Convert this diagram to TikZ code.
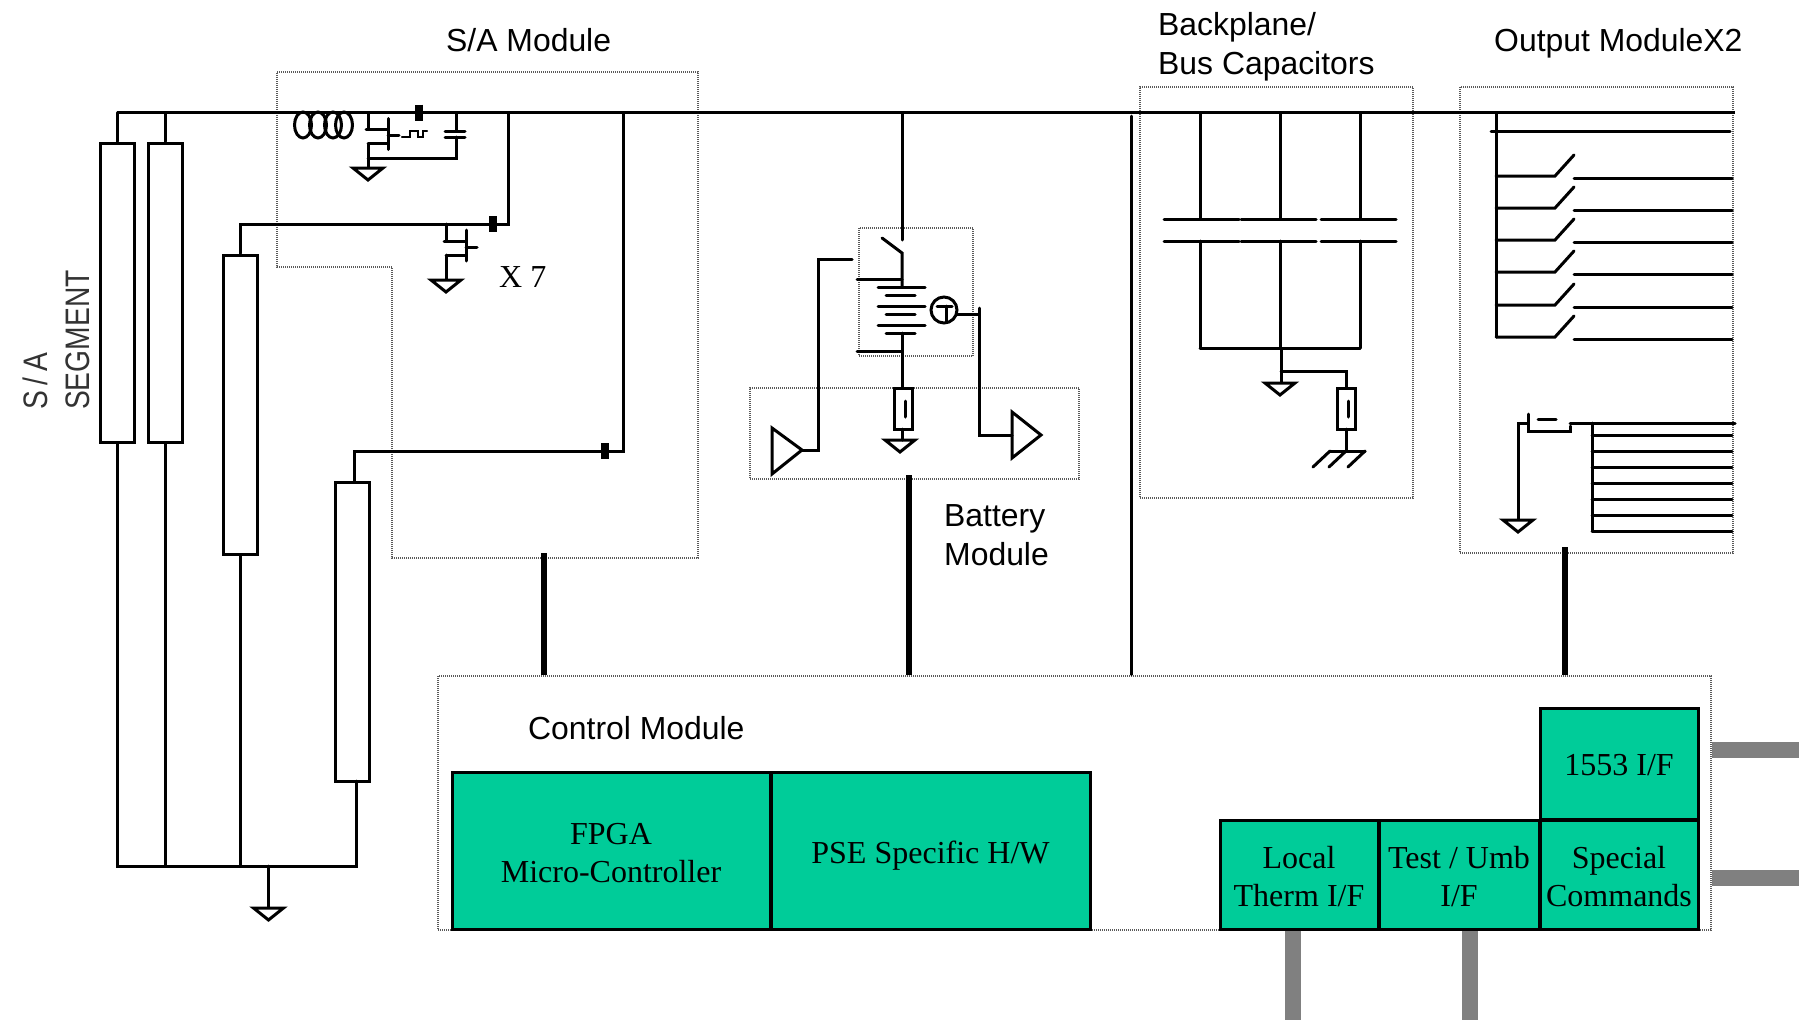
\documentclass[tikz,border=0pt]{standalone}
\usepackage{fontspec}
\setmainfont{Liberation Sans}
\newfontfamily\serifface{Liberation Serif}
\usepackage{xcolor}
\usetikzlibrary{positioning}
\definecolor{cardcolor}{RGB}{0,204,153}
\definecolor{stubcolor}{RGB}{128,128,128}
\definecolor{modcolor}{RGB}{90,90,90}
\newcommand{\cardlift}[1]{\rule{0pt}{#1}}

\begin{document}
\begin{tikzpicture}[
    x=1pt, y=-1pt,
    wire/.style={draw=black, line width=3pt, line cap=round},
    busline/.style={draw=black, line width=3pt},
    ctrlline/.style={draw=black, line width=6pt},
    graystub/.style={draw=stubcolor, line width=16pt},
    modbox/.style={draw=modcolor, line width=2.6pt, dash pattern=on 1pt off 1pt},
    panel/.style={draw=black, line width=3pt, minimum width=34pt, minimum height=299pt, inner sep=0pt},
    card/.style={draw=black, line width=3pt, fill=cardcolor, align=center, inner sep=0pt,
        font=\serifface\fontsize{32}{38}\selectfont},
    label/.style={font=\fontsize{31.9}{39}\selectfont, align=left, anchor=west, inner sep=0pt},
    gnd/.pic={\draw[wire, line join=miter] (-15,0) -- (15,0) -- (0,12) -- cycle;},
    fuse/.pic={\draw[line width=7.5pt, draw=black] (0,-8) -- (0,8);},
    resistor/.pic={\draw[wire] (-9,0) rectangle (9,41); \draw[wire] (2,13) -- (2,29);},
    mosfet/.pic={
        \draw[wire] (0,0) -- (0,17) (-2,17) -- (20,17);
        \draw[wire] (20,6) -- (20,37) (20,23) -- (31,23);
        \draw[wire] (20,31) -- (0,31);
    }
]
    \useasboundingbox (0,0) rectangle (1799,1020);

    % Module outlines
    \draw[modbox] (277,72) -- (698,72) -- (698,558) -- (392,558) -- (392,267) -- (277,267) -- cycle;
    \node[modbox, minimum width=114pt, minimum height=128pt] (cellbox) at (916,292) {};
    \node[modbox, minimum width=329pt, minimum height=91pt] (battbox) at (914.5,433.5) {};
    \node[modbox, minimum width=273pt, minimum height=411pt] (backbox) at (1276.5,292.5) {};
    \node[modbox, minimum width=273pt, minimum height=466pt] (outbox) at (1596.5,320) {};
    \node[modbox, minimum width=1273pt, minimum height=254pt] (ctrl) at (1074.5,803) {};

    % Module labels
    \node[label] (salabel) at (446,40) {S/A Module};
    \node[label] (backlabel) at (1158,47) {Backplane/\\Bus Capacitors};
    \node[label] (outlabel) at (1494,43) {Output ModuleX2};
    \node[label] (battlabel) at (944,535) {Battery\\Module};
    \node[label] (ctrllabel) at (528,728) {Control Module};
    \node[label, font=\serifface\fontsize{32}{38}\selectfont] (times) at (499,277) {X 7};
    \node[rotate=90, anchor=west, xscale=0.83, text=black!80, inner sep=0pt, font=\fontsize{34}{38}\selectfont] (salbl) at (35,410) {S\kern7pt/\kern7pt A};
    \node[rotate=90, anchor=west, xscale=0.83, text=black!80, inner sep=0pt, font=\fontsize{34}{38}\selectfont] (seglbl) at (78,410) {SEGMENT};

    % Solar array strings
    \node[panel] (panela) at (117,292.5) {};
    \node[panel] (panelb) at (165,292.5) {};
    \node[panel] (panelc) at (240,404.5) {};
    \node[panel] (paneld) at (352.5,631.5) {};
    \coordinate (retleft) at (117,866);
    \coordinate (retright) at (356,866);
    \coordinate (retgnd) at (268.5,866);
    \draw[wire] (panela.south) -- (retleft) -- (retright) -- (356,781);
    \draw[wire] (panelb.south) -- (165,866);
    \draw[wire] (panelc.south) -- (240,866);
    \draw[wire] (retgnd) -- (268.5,907);
    \pic at (268.5,908) {gnd};

    % Main bus
    \coordinate (busl) at (117,112.5);
    \coordinate (busr) at (1735,112.5);
    \draw[busline] (busl) -- (busr);
    \draw[wire] (busl) -- (panela.north);
    \draw[wire] (165,112.5) -- (panelb.north);
    \foreach \x in {303,318,333,344} {
        \draw[wire] (\x,125) ellipse (8.5 and 13);
    }

    % S/A shunt
    \pic at (368,112.5) {mosfet};
    \draw[wire] (368,143.5) -- (368,167);
    \pic at (368,168) {gnd};
    \draw[wire] (368,158) -- (456,158) -- (456,137);
    \draw[wire] (456,112.5) -- (456,131);
    \draw[wire] (445,131) -- (465,131) (445,137) -- (465,137);
    \draw[wire, line width=2.4pt] (402,137) -- (410,137) -- (410,131) -- (418,131) -- (418,137) -- (423,137) -- (423,131) -- (427,131);
    \pic at (419,112.5) {fuse};

    % S/A switch, X 7
    \draw[wire] (panelc.north) |- (508,224) -- (508,112.5);
    \pic at (493,224) {fuse};
    \pic at (446,224) {mosfet};
    \draw[wire] (446,255) -- (446,279);
    \pic at (446,280) {gnd};
    \draw[wire] (354.5,482) -- (354.5,451) -- (623,451) -- (623,112.5);
    \pic at (605,451) {fuse};

    % Battery
    \draw[wire] (902,112.5) -- (902,240);
    \draw[wire] (882,238) -- (902,253) -- (902,287);
    \draw[wire] (857,279) -- (902,279);
    \foreach \y in {287,306,325} {
        \draw[wire] (878,\y) -- (925,\y);
        \draw[wire] (886,\y+8) -- (915,\y+8);
    }
    \draw[wire] (902,333) -- (902,388);
    \draw[wire] (857,351) -- (902,351);
    \pic at (903,388) {resistor};
    \draw[wire] (902,429) -- (902,440);
    \pic at (900,440) {gnd};
    \node[draw=black, line width=3pt, circle, minimum size=26pt, inner sep=0pt] (therm) at (944,310) {};
    \draw[wire] (937,306) -- (952,306) (946,306) -- (946,322);
    \draw[wire] (957,314) -- (979,314);
    \draw[wire] (979,308) -- (979,435) -- (1012,435);
    \draw[wire, line join=miter] (1012,412) -- (1012,458) -- (1041,435) -- cycle;
    \draw[wire] (852,259) -- (818,259) -- (818,450) -- (802,450);
    \draw[wire, line join=miter] (772,428) -- (772,474) -- (802,450) -- cycle;

    % Backplane capacitors
    \coordinate (backtop) at (1131.5,116);
    \draw[wire, line width=2.7pt] (backtop) -- (backtop |- ctrl.north);
    \foreach \x/\l/\r in {1200/1164/1239, 1280/1241/1316, 1360/1321/1396} {
        \draw[wire] (\x,112.5) -- (\x,219);
        \draw[wire] (\l,219) -- (\r,219) (\l,241) -- (\r,241);
        \draw[wire] (\x,241) -- (\x,348);
    }
    \draw[wire] (1200,348) -- (1360,348);
    \draw[wire] (1281,348) -- (1281,382);
    \pic at (1280,383) {gnd};
    \draw[wire] (1281,371) -- (1346.5,371) -- (1346.5,388);
    \pic at (1346.5,388) {resistor};
    \draw[wire] (1346.5,429) -- (1346.5,451);
    \draw[wire] (1330,451) -- (1365,451);
    \foreach \x in {1330,1346,1365} {
        \draw[wire] (\x,451) -- (\x-17,467);
    }

    % Output switches
    \draw[wire] (1496,112.5) -- (1496,337);
    \draw[wire] (1491,131) -- (1730,131);
    \foreach \y in {176,208,240,272,305,337} {
        \draw[wire] (1496,\y) -- (1555,\y) -- (1574,\y-21);
        \draw[wire] (1574,\y+2) -- (1732,\y+2);
    }

    % Output returns
    \draw[wire] (1528,423) -- (1518,423) -- (1518,519);
    \pic at (1518,520) {gnd};
    \draw[wire] (1528,414) -- (1528,431) -- (1570,431) -- (1570,426);
    \draw[wire] (1538,419) -- (1556,419);
    \draw[wire] (1570,423) -- (1735,423);
    \draw[wire] (1592,423) -- (1592,531);
    \foreach \y in {435,451,467,483,499,515,531} {
        \draw[wire] (1592,\y) -- (1732,\y);
    }

    % Control links
    \coordinate (salink) at (544,553);
    \coordinate (battlink) at (909,475);
    \coordinate (outlink) at (1565,547);
    \draw[ctrlline] (salink) -- (salink |- ctrl.north);
    \draw[ctrlline] (battlink) -- (battlink |- ctrl.north);
    \draw[ctrlline] (outlink) -- (outlink |- ctrl.north);

    % Control cards
    \node[card, minimum width=318pt, minimum height=157pt] (fpga) at (611,850.5) {\cardlift{26pt}FPGA\\Micro-Controller};
    \node[card, text depth=0pt, minimum width=319pt, minimum height=157pt] (pse) at (930.5,850.5) {\cardlift{25pt}PSE Specific H/W};
    \node[card, minimum width=158pt, minimum height=109pt] (local) at (1299,874.5) {\cardlift{26.5pt}Local\\Therm I/F};
    \node[card, minimum width=160pt, minimum height=109pt] (test) at (1459,874.5) {\cardlift{26.5pt}Test / Umb\\I/F};
    \node[card, minimum width=158pt, minimum height=109pt] (special) at (1619,874.5) {\cardlift{26.5pt}Special\\Commands};
    \node[card, minimum width=158pt, minimum height=111pt] (milbus) at (1619,764) {\cardlift{23pt}1553 I/F};

    % External stubs
    \coordinate (stubone) at (1799,750);
    \coordinate (stubtwo) at (1799,878);
    \coordinate (stubthree) at (1293,1020);
    \coordinate (stubfour) at (1470,1020);
    \draw[graystub] (ctrl.east |- stubone) -- (stubone);
    \draw[graystub] (ctrl.east |- stubtwo) -- (stubtwo);
    \draw[graystub] (stubthree |- ctrl.south) -- (stubthree);
    \draw[graystub] (stubfour |- ctrl.south) -- (stubfour);
\end{tikzpicture}
\end{document}
